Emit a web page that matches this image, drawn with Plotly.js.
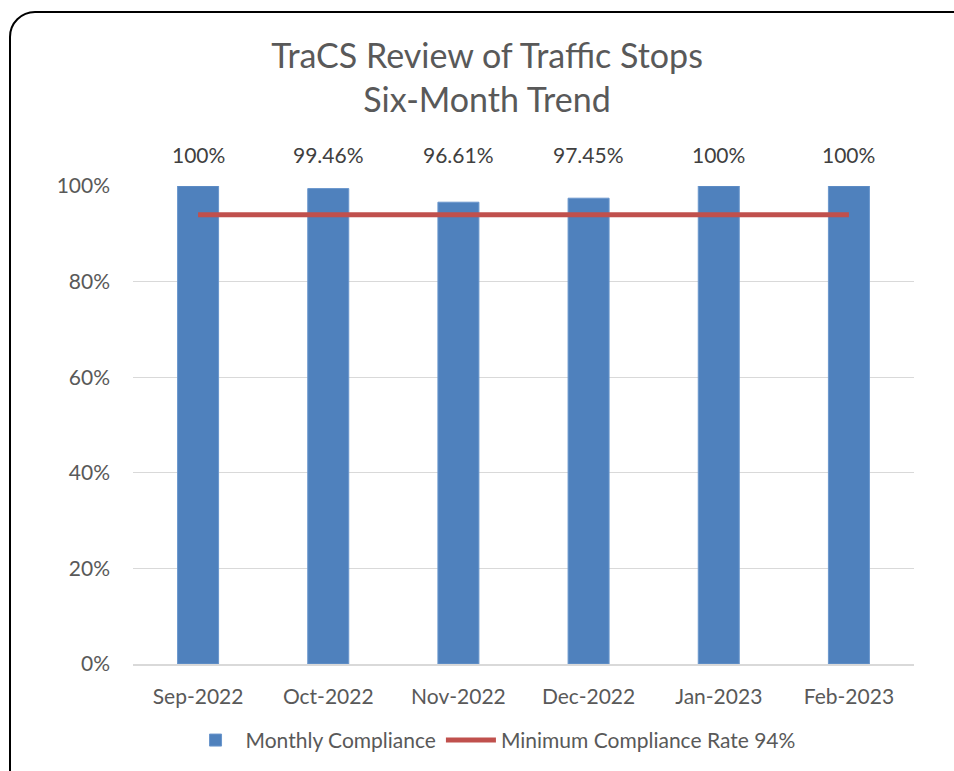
<!DOCTYPE html>
<html>
<head>
<meta charset="utf-8">
<script src="https://cdn.plot.ly/plotly-3.0.1.min.js"></script>
<style>
html,body{margin:0;padding:0;background:#fff;overflow:hidden;}
#frame{position:absolute;left:9px;top:11px;width:980px;height:800px;border:2.5px solid #000;border-radius:26px;box-sizing:border-box;}
#chart{position:absolute;left:0;top:0;width:954px;height:771px;}
</style>
</head>
<body>
<div id="frame"></div>
<div id="chart"></div>
<script>
const months = ["Sep-2022","Oct-2022","Nov-2022","Dec-2022","Jan-2023","Feb-2023"];
const compliance = [1.0, 0.9946, 0.9661, 0.9745, 1.0, 1.0];
const labels = ["100%","99.46%","96.61%","97.45%","100%","100%"];
const minimumRate = [0.94, 0.94, 0.94, 0.94, 0.94, 0.94];

const font = "Lato, 'Open Sans', sans-serif";
const grey = "#595959";

const traces = [
  {type:"bar", x:months, y:compliance, name:"Monthly Compliance",
   marker:{color:"#4F81BD", line:{color:"#6A96CC", width:1}}, width:0.315, hoverinfo:"skip"},
  {type:"scatter", mode:"lines", x:months, y:minimumRate, name:"Minimum Compliance Rate 94%",
   line:{color:"#C0504D", width:5}, hoverinfo:"skip"}
];

const annotations = months.map((m,i)=>({
  x:m, xref:"x", y:1, yref:"paper", yshift:46, text:labels[i], showarrow:false,
  font:{family:font, size:21, color:"#404040"}
}));

const layout = {
  width:954, height:771,
  paper_bgcolor:"rgba(0,0,0,0)", plot_bgcolor:"rgba(0,0,0,0)",
  margin:{l:133, r:40, t:186, b:107, autoexpand:false},
  title:{text:"TraCS Review of Traffic Stops<br>Six-Month Trend", x:0.5105, xanchor:"center",
         y:0.912, yanchor:"top", font:{family:font, size:34, color:grey}},
  xaxis:{type:"category", showgrid:false, showline:true, linecolor:"#D9D9D9", linewidth:1.5,
         ticks:"", tickfont:{family:font, size:21, color:grey}, ticklabelstandoff:13,
         automargin:false, fixedrange:true},
  yaxis:{range:[0,1], dtick:0.2, tickformat:".0%", showgrid:true, gridcolor:"#D9D9D9", gridwidth:1,
         zeroline:false, showline:false, ticks:"", tickfont:{family:font, size:21, color:grey},
         ticklabelstandoff:22, automargin:false, fixedrange:true},
  legend:{orientation:"h", x:0.461, xanchor:"center", y:-0.117, yanchor:"top",
          font:{family:font, size:21, color:grey}, itemwidth:50, traceorder:"normal"},
  annotations:annotations,
  showlegend:true
};

Plotly.newPlot("chart", traces, layout, {staticPlot:true, displayModeBar:false});
</script>
</body>
</html>
